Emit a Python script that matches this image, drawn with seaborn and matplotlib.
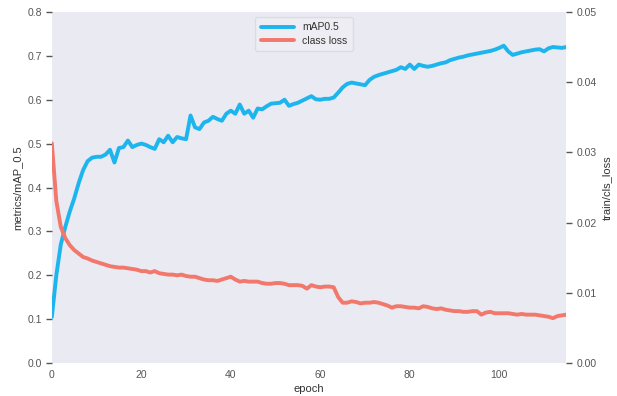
import matplotlib
matplotlib.use("Agg")
import matplotlib.pyplot as plt
import numpy as np
import pandas as pd
import seaborn as sns

# mAP@0.5 per epoch (left axis)
map50 = [
    0.105, 0.20, 0.27, 0.31, 0.345, 0.375, 0.41, 0.44, 0.46, 0.468,
    0.47, 0.47, 0.475, 0.486, 0.457, 0.49, 0.492, 0.507, 0.492, 0.497,
    0.50, 0.497, 0.492, 0.488, 0.51, 0.503, 0.518, 0.503, 0.515, 0.512,
    0.51, 0.564, 0.537, 0.533, 0.548, 0.552, 0.561, 0.556, 0.552, 0.568,
    0.575, 0.568, 0.589, 0.568, 0.575, 0.559, 0.58, 0.578, 0.585, 0.591,
    0.592, 0.593, 0.60, 0.586, 0.59, 0.593, 0.598, 0.603, 0.608, 0.601,
    0.60, 0.602, 0.602, 0.605, 0.616, 0.628, 0.636, 0.639, 0.637, 0.635,
    0.633, 0.645, 0.652, 0.656, 0.659, 0.662, 0.665, 0.668, 0.674, 0.67,
    0.68, 0.67, 0.68, 0.677, 0.675, 0.677, 0.68, 0.683, 0.685, 0.69,
    0.693, 0.696, 0.698, 0.701, 0.703, 0.705, 0.707, 0.709, 0.711, 0.714,
    0.718, 0.723, 0.71, 0.702, 0.705, 0.708, 0.71, 0.712, 0.714, 0.715,
    0.71, 0.717, 0.72, 0.719, 0.718, 0.72,
]

# training classification loss per epoch (right axis)
cls_loss = [
    0.0313, 0.0231, 0.0194, 0.0178, 0.0168, 0.0161, 0.0156, 0.0151, 0.0149, 0.0146,
    0.0144, 0.0142, 0.0140, 0.0138, 0.0137, 0.0136, 0.0136, 0.0135, 0.0134, 0.0133,
    0.0131, 0.0131, 0.0129, 0.0131, 0.0128, 0.0127, 0.0126, 0.0126, 0.0125, 0.0126,
    0.0124, 0.0123, 0.0123, 0.0121, 0.0119, 0.0118, 0.0118, 0.0117, 0.0119, 0.0121,
    0.0123, 0.0119, 0.0116, 0.0117, 0.0116, 0.0116, 0.0116, 0.0114, 0.0113, 0.0113,
    0.0114, 0.0114, 0.0113, 0.0111, 0.0111, 0.0111, 0.0110, 0.0106, 0.0111, 0.0109,
    0.0108, 0.0109, 0.0109, 0.0108, 0.0094, 0.0086, 0.0086, 0.0088, 0.0087, 0.0085,
    0.0086, 0.0086, 0.0087, 0.0086, 0.0084, 0.0082, 0.0079, 0.0081, 0.0081, 0.0080,
    0.0079, 0.0079, 0.0078, 0.0081, 0.0080, 0.0078, 0.0077, 0.0078, 0.0076, 0.0075,
    0.0074, 0.0074, 0.0073, 0.0073, 0.0074, 0.0074, 0.0069, 0.0072, 0.0073, 0.0071,
    0.0071, 0.0071, 0.0071, 0.0070, 0.0069, 0.0070, 0.0069, 0.0069, 0.0069, 0.0068,
    0.0067, 0.0066, 0.0064, 0.0067, 0.0068, 0.0069,
]

epochs = list(range(len(map50)))

left_ticks = [0.0, 0.1, 0.2, 0.3, 0.4, 0.5, 0.6, 0.7, 0.8]
right_ticks = [0.00, 0.01, 0.02, 0.03, 0.04, 0.05]
x_ticks = [0, 20, 40, 60, 80, 100]

df = pd.DataFrame({"epoch": epochs, "map": map50, "loss": cls_loss})

sns.set_style("dark", {"axes.facecolor": "#EAEAF2",
                       "ytick.left": True, "ytick.right": True,
                       "axes.edgecolor": "white"})
plt.rcParams["font.family"] = ["Liberation Sans", "DejaVu Sans"]

fig = plt.figure(figsize=(6.17, 3.96), dpi=100)
ax = fig.add_axes([0.084, 0.083, 0.834, 0.887])
ax2 = ax.twinx()

blue = "#1DB5EE"
red = "#F2786C"

sns.lineplot(data=df, x="epoch", y="map", ax=ax, color=blue, linewidth=2.8,
             label="mAP0.5", legend=False)
sns.lineplot(data=df, x="epoch", y="loss", ax=ax2, color=red, linewidth=2.8,
             label="class loss", legend=False)

ax.set_xlim(0, epochs[-1])
ax.set_ylim(0, 0.8)
ax2.set_ylim(0, 0.05)
ax.set_xticks(x_ticks)
ax.set_yticks(left_ticks)
ax.set_yticklabels([f"{t:.1f}" for t in left_ticks])
ax2.set_yticks(right_ticks)
ax2.set_yticklabels([f"{t:.2f}" for t in right_ticks])

tick_col = "#555555"
for a in (ax, ax2):
    a.tick_params(axis="both", labelsize=7.5, colors=tick_col, length=4,
                  width=1, pad=3)
    for s in a.spines.values():
        s.set_visible(False)
ax.tick_params(axis="x", length=0, pad=5)
ax2.grid(False)
ax.grid(False)

ax.set_xlabel("epoch", fontsize=8, color="#333333", labelpad=3)
ax.set_ylabel("metrics/mAP_0.5", fontsize=8, color="#333333", labelpad=4)
ax2.set_ylabel("train/cls_loss", fontsize=8, color="#333333", labelpad=4)

h1, l1 = ax.get_legend_handles_labels()
h2, l2 = ax2.get_legend_handles_labels()
leg = ax2.legend(h1 + h2, l1 + l2, loc="upper center", bbox_to_anchor=(0.49, 1.0),
                 fontsize=7.5, frameon=True, facecolor="#EEEEF4",
                 edgecolor="#D8D8E0", handlelength=3.2, borderpad=0.5,
                 labelspacing=0.35)
for t in leg.get_texts():
    t.set_color("#333333")

fig.savefig("out.png", dpi=100)
